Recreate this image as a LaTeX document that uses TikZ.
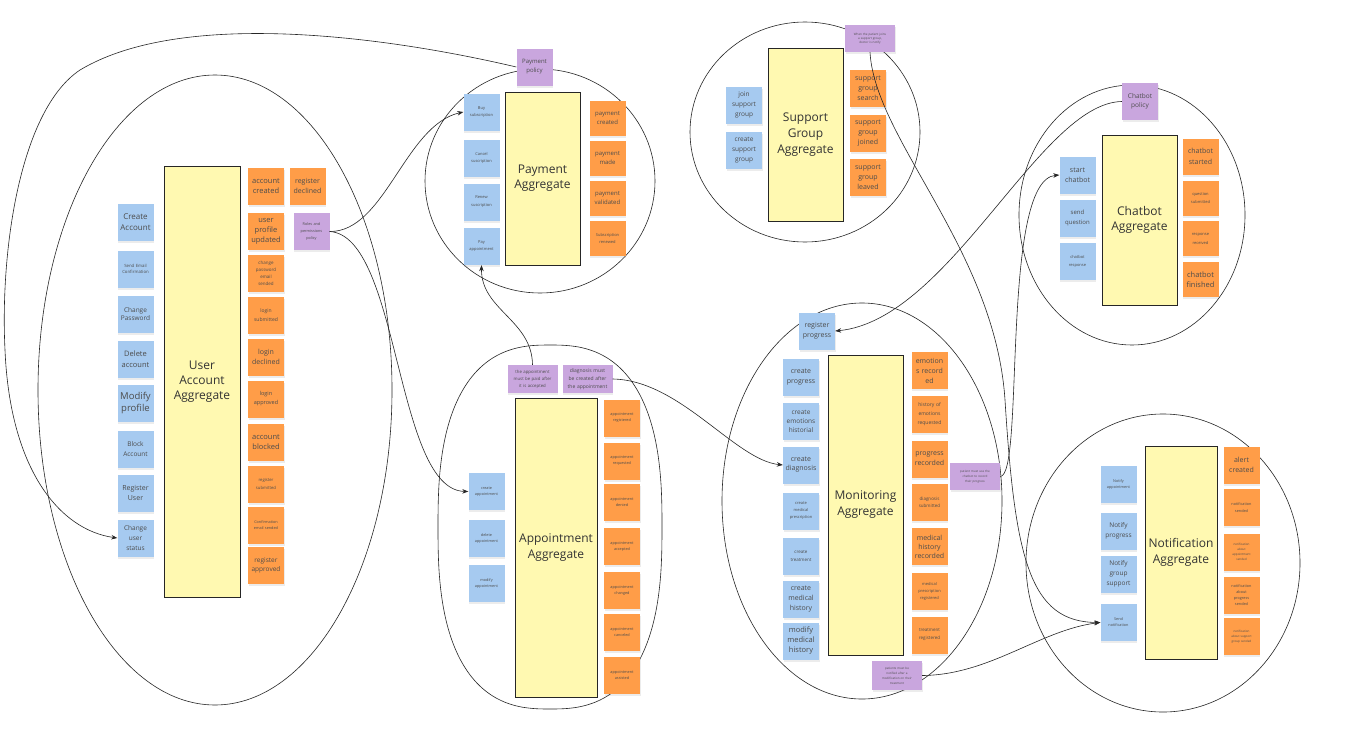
\documentclass[tikz,border=0pt]{standalone}
\usepackage{fontspec}
\setmainfont{Open Sans}
\usetikzlibrary{arrows.meta,shadows}

\definecolor{stickyblue}{HTML}{A6CAF0}
\definecolor{stickyorange}{HTML}{FF9D48}
\definecolor{stickypurple}{HTML}{C9A6DE}
\definecolor{aggyellow}{HTML}{FFF9B1}

\newcommand{\notesize}[2]{\fontsize{#1}{#2}\selectfont}

\begin{document}
\begin{tikzpicture}[x=1pt,y=-1pt,
    note/.style={rectangle, minimum width=36pt, minimum height=37pt, text width=34pt,
        align=center, inner sep=1pt, text=black!70,
        drop shadow={shadow xshift=0.5pt, shadow yshift=-2pt, opacity=0.15}},
    cmd/.style={note, fill=stickyblue},
    evt/.style={note, fill=stickyorange},
    pol/.style={note, fill=stickypurple},
    widepol/.style={pol, minimum width=50pt, text width=48pt, minimum height=27pt},
    aggregate/.style={rectangle, draw=black!85, line width=0.6pt, fill=aggyellow,
        align=center, text=black!80, font=\notesize{12}{15}},
    boundary/.style={draw=black!85, line width=0.6pt},
    flow/.style={draw=black!85, line width=0.6pt, -{Stealth[length=6pt,width=4.5pt]}}
]

    % Page size and background
    \useasboundingbox (0,0) rectangle (1352,739);
    \fill[white] (0,0) rectangle (1352,739);

    % Draw the boundaries of the seven aggregates
    \draw[boundary] (215,390) ellipse [x radius=177pt, y radius=315pt];
    \draw[boundary] (540,181) ellipse [x radius=115pt, y radius=112pt];
    \draw[boundary] (805,132) ellipse [x radius=115pt, y radius=110pt];
    \draw[boundary] (1132,215) ellipse [x radius=113pt, y radius=130pt];
    % the appointment boundary is a little boxier than an ellipse
    \draw[boundary] plot[domain=0.5:360.5, samples=121, smooth cycle]
        ({550+112*sign(cos(\x))*pow(abs(cos(\x)),0.77)}, {527+182*sign(sin(\x))*pow(abs(sin(\x)),0.77)});
    \draw[boundary] (862,501) ellipse [x radius=140pt, y radius=198pt];
    \draw[boundary] (1163,563) ellipse [x radius=137pt, y radius=149pt];

    % User Account aggregate
    \node[aggregate, minimum width=76pt, minimum height=431pt] (useragg) at (202,381.5) {User\\Account\\Aggregate};

    \node[cmd, font=\notesize{8}{10.5}] (createacc) at (135.5,222) {Create\\Account};
    \node[cmd, font=\notesize{4.3}{6}] (sendemail) at (135.5,269) {Send Email\\Confirmation};
    \node[cmd, font=\notesize{6.5}{8.7}] (changepw) at (135.5,314) {Change\\Password};
    \node[cmd, font=\notesize{7.5}{10.5}] (deleteacc) at (135.5,359) {Delete\\account};
    \node[cmd, font=\notesize{9.5}{12.5}] (modifyprof) at (135.5,403) {Modify\\profile};
    \node[cmd, font=\notesize{6.5}{10}] (blockacc) at (135.5,449) {Block\\Account};
    \node[cmd, font=\notesize{7}{10.5}] (reguser) at (135.5,493) {Register\\User};
    \node[cmd, font=\notesize{6.5}{10}] (chgstatus) at (135.5,538) {Change\\user\\status};

    \node[evt, font=\notesize{7.5}{10}] (acccreated) at (266,186) {account\\created};
    \node[evt, font=\notesize{7.5}{10}] (profupdated) at (266,231) {user\\profile\\updated};
    \node[evt, font=\notesize{4.5}{7}] (pwsended) at (266,273) {change\\password\\email\\sended};
    \node[evt, font=\notesize{5}{9}] (loginsub) at (266,315) {login\\submitted};
    \node[evt, font=\notesize{7}{10}] (logindec) at (266,357) {login\\declined};
    \node[evt, font=\notesize{5.5}{9}] (loginapp) at (266,399) {login\\approved};
    \node[evt, font=\notesize{7.5}{10.5}] (accblocked) at (266,442) {account\\blocked};
    \node[evt, font=\notesize{4.2}{8.5}] (regsub) at (266,484) {register\\submitted};
    \node[evt, font=\notesize{3.8}{6}] (confsended) at (266,525) {Confirmation\\email sended};
    \node[evt, font=\notesize{6.5}{9}] (regapp) at (266,565) {register\\approved};
    \node[evt, font=\notesize{7}{10}] (regdec) at (307.5,186) {register\\declined};
    \node[pol, font=\notesize{3.8}{7}] (rolespol) at (311.5,231.5) {Roles and\\permissions\\policy};

    % Payment aggregate
    \node[aggregate, minimum width=75pt, minimum height=173pt] (payagg) at (542.5,178.5) {Payment\\Aggregate};

    \node[pol, font=\notesize{6}{9}] (paypol) at (534.5,67) {Payment\\policy};

    \node[cmd, font=\notesize{4}{7}] (buysub) at (481.5,112) {Buy\\subscription};
    \node[cmd, font=\notesize{4}{7}] (cancelsub) at (481.5,158) {Cancel\\suscription};
    \node[cmd, font=\notesize{4}{8}] (renewsub) at (481.5,202) {Renew\\suscription};
    \node[cmd, font=\notesize{4}{7}] (payappt) at (481.5,246.5) {Pay\\appointment};

    \node[evt, minimum height=35pt, font=\notesize{6}{9}] (paycreated) at (607.5,118) {payment\\created};
    \node[evt, minimum height=35pt, font=\notesize{6}{9}] (paymade) at (607.5,158) {payment\\made};
    \node[evt, minimum height=35pt, font=\notesize{6}{9}] (payvalid) at (607.5,198.5) {payment\\validated};
    \node[evt, minimum height=35pt, font=\notesize{4}{7}] (subrenewed) at (607.5,238) {Subscription\\renewed};

    % Support Group aggregate
    \node[aggregate, minimum width=75pt, minimum height=173pt, font=\notesize{12}{16}] (supportagg) at (805.5,134.5) {Support\\Group\\Aggregate};

    \node[widepol, font=\notesize{3}{4.2}] (supportpol) at (870,38.5) {When the patient joins\\a support group,\\doctor is notify};

    \node[cmd, font=\notesize{6.5}{10}] (joinsg) at (744,105) {join\\support\\group};
    \node[cmd, font=\notesize{6.5}{10}] (createsg) at (744,150.5) {create\\support\\group};

    \node[evt, font=\notesize{7}{10}] (sgsearch) at (868,88.5) {support\\group\\search};
    \node[evt, font=\notesize{7}{10}] (sgjoined) at (868,133.5) {support\\group\\joined};
    \node[evt, font=\notesize{7}{10}] (sgleaved) at (868,177) {support\\group\\leaved};

    % Chatbot aggregate
    \node[aggregate, minimum width=75pt, minimum height=170pt, font=\notesize{12}{14.5}] (chatagg) at (1139.5,220) {Chatbot\\Aggregate};

    \node[pol, font=\notesize{6.5}{9}] (chatpol) at (1140,101.5) {Chatbot\\policy};

    \node[cmd, font=\notesize{7}{10}] (startchat) at (1077.5,175) {start\\chatbot};
    \node[cmd, font=\notesize{6}{10}] (sendq) at (1077.5,218) {send\\question};
    \node[cmd, font=\notesize{4}{8}] (chatresp) at (1077.5,261) {chatbot\\response};

    \node[evt, minimum height=36pt, font=\notesize{7}{11}] (chatstarted) at (1200.5,156.5) {chatbot\\started};
    \node[evt, minimum height=35pt, font=\notesize{4}{8}] (qsubmitted) at (1200.5,198.5) {question\\submitted};
    \node[evt, minimum height=35pt, font=\notesize{4}{9}] (respreceived) at (1200.5,238.5) {response\\received};
    \node[evt, minimum height=35pt, font=\notesize{7.5}{10}] (chatfinished) at (1200.5,279.5) {chatbot\\finished};

    % Appointment aggregate
    \node[aggregate, minimum width=82pt, minimum height=299pt, font=\notesize{12}{16}] (apptagg) at (556,547.5) {Appointment\\Aggregate};

    \node[widepol, minimum height=28pt, font=\notesize{4.3}{7}] (paidpol) at (532.5,379) {the appointment\\must be paid after\\it is accepted};
    \node[widepol, minimum height=28pt, font=\notesize{5}{8}] (diagpol) at (587.5,379) {diagnosis must\\be created after\\the appointment};

    \node[cmd, font=\notesize{3.8}{6}] (createappt) at (486.5,491.5) {create\\appointment};
    \node[cmd, font=\notesize{3.8}{6}] (deleteappt) at (486.5,538.5) {delete\\appointment};
    \node[cmd, font=\notesize{3.8}{6}] (modifyappt) at (486.5,583.5) {modify\\appointment};

    \node[evt, font=\notesize{3.8}{6}] (apptreg) at (622,418) {appointment\\registered};
    \node[evt, font=\notesize{3.8}{6}] (apptreq) at (622,461) {appointment\\requested};
    \node[evt, font=\notesize{3.8}{6}] (apptden) at (622,502.5) {appointment\\denied};
    \node[evt, font=\notesize{3.8}{6}] (apptacc) at (622,546.5) {appointment\\accepted};
    \node[evt, font=\notesize{3.8}{6}] (apptchg) at (622,590.5) {appointment\\changed};
    \node[evt, font=\notesize{3.8}{6}] (apptcan) at (622,632) {appointment\\canceled};
    \node[evt, font=\notesize{3.8}{6}] (apptass) at (622,675.5) {appointment\\assisted};

    % Monitoring aggregate
    \node[aggregate, minimum width=75pt, minimum height=300pt, font=\notesize{12}{16}] (monagg) at (865.5,505) {Monitoring\\Aggregate};

    \node[cmd, font=\notesize{7}{10}] (regprog) at (817,331) {register\\progress};

    \node[cmd, font=\notesize{7}{9.5}] (createprog) at (801,377) {create\\progress};
    \node[cmd, font=\notesize{6.5}{9}] (createemo) at (801,421) {create\\emotions\\historial};
    \node[cmd, font=\notesize{7}{9}] (creatediag) at (801,465) {create\\diagnosis};
    \node[cmd, font=\notesize{4}{7}] (createpresc) at (801,511) {create\\medical\\prescription};
    \node[cmd, font=\notesize{4.5}{8}] (createtreat) at (801,556.5) {create\\treatment};
    \node[cmd, font=\notesize{7}{10}] (createhist) at (801,599) {create\\medical\\history};
    \node[cmd, font=\notesize{7.5}{10}] (modifyhist) at (801,641) {modify\\medical\\history};

    \node[evt, font=\notesize{7}{10}] (emorec) at (929.5,370.5) {emotion\\s record\\ed};
    \node[evt, font=\notesize{5}{9}] (emohist) at (929.5,414.5) {history of\\emotions\\requested};
    \node[evt, font=\notesize{7}{10}] (progrec) at (929.5,459) {progress\\recorded};
    \node[evt, font=\notesize{4.5}{7}] (diagsub) at (929.5,502.5) {diagnosis\\submitted};
    \node[evt, font=\notesize{7}{9}] (histrec) at (929.5,546.5) {medical\\history\\recorded};
    \node[evt, font=\notesize{4}{7}] (prescreg) at (929.5,591.5) {medical\\prescription\\registered};
    \node[evt, font=\notesize{4.5}{8}] (treatreg) at (929.5,635) {treatment\\registered};

    \node[widepol, font=\notesize{3}{5}] (usechatpol) at (975,476.5) {patient must use the\\chatbot to record\\their progress};
    \node[widepol, minimum height=29pt, font=\notesize{3}{5}] (notifypol) at (897,675.5) {patients must be\\notified after a\\modification on their\\treatment};

    % Notification aggregate
    \node[aggregate, minimum width=70pt, minimum height=213pt, font=\notesize{12}{16}] (notifagg) at (1181,552.5) {Notification\\Aggregate};

    \node[cmd, font=\notesize{3.8}{6}] (notifyappt) at (1118.5,484) {Notify\\appointment};
    \node[cmd, font=\notesize{6.5}{10}] (notifyprog) at (1118.5,531) {Notify\\progress};
    \node[cmd, font=\notesize{6.5}{10}] (notifygroup) at (1118.5,574) {Notify\\group\\support};
    \node[cmd, font=\notesize{3.8}{6}] (sendnotif) at (1118.5,622.5) {Send\\notification};

    \node[evt, font=\notesize{7}{10}] (alertcreated) at (1241.5,465) {alert\\created};
    \node[evt, font=\notesize{3.8}{6.5}] (notifsended) at (1241.5,507.5) {notification\\sended};
    \node[evt, font=\notesize{3}{5}] (notifappt) at (1241.5,552) {notification\\about\\appointment\\sended};
    \node[evt, font=\notesize{3.8}{6}] (notifprog) at (1241.5,595) {notification\\about\\progress\\sended};
    \node[evt, font=\notesize{3}{5}] (notifgroup) at (1241.5,636.5) {notification\\about support\\group sended};

    % Policies linking the aggregates
    \draw[flow] (paypol.west) .. controls (380,35) and (180,10) .. (80,70)
        .. controls (20,110) and (0,250) .. (5,350)
        .. controls (10,470) and (60,530) .. (chgstatus.west);
    \draw[flow] (rolespol.east) .. controls (385,232) and (405,125) .. (buysub.west);
    \draw[flow] (rolespol.east) .. controls (400,236) and (395,490) .. (createappt.west);
    \draw[flow] (paidpol.north) .. controls (532,320) and (481,310) .. (payappt.south);
    \draw[flow] (diagpol.east) .. controls (680,380) and (735,460) .. (creatediag.west);
    \draw[flow] (supportpol.south) .. controls (875,140) and (995,250) .. (1005,400)
        .. controls (1015,560) and (1030,622) .. (sendnotif.west);
    \draw[flow] (chatpol.west) .. controls (1040,103) and (950,320) .. (regprog.east);
    \draw[flow] (usechatpol.east) .. controls (1025,476) and (1000,180) .. (startchat.west);
    \draw[flow] (notifypol.east) .. controls (990,675) and (1040,630) .. (sendnotif.west);

\end{tikzpicture}
\end{document}
